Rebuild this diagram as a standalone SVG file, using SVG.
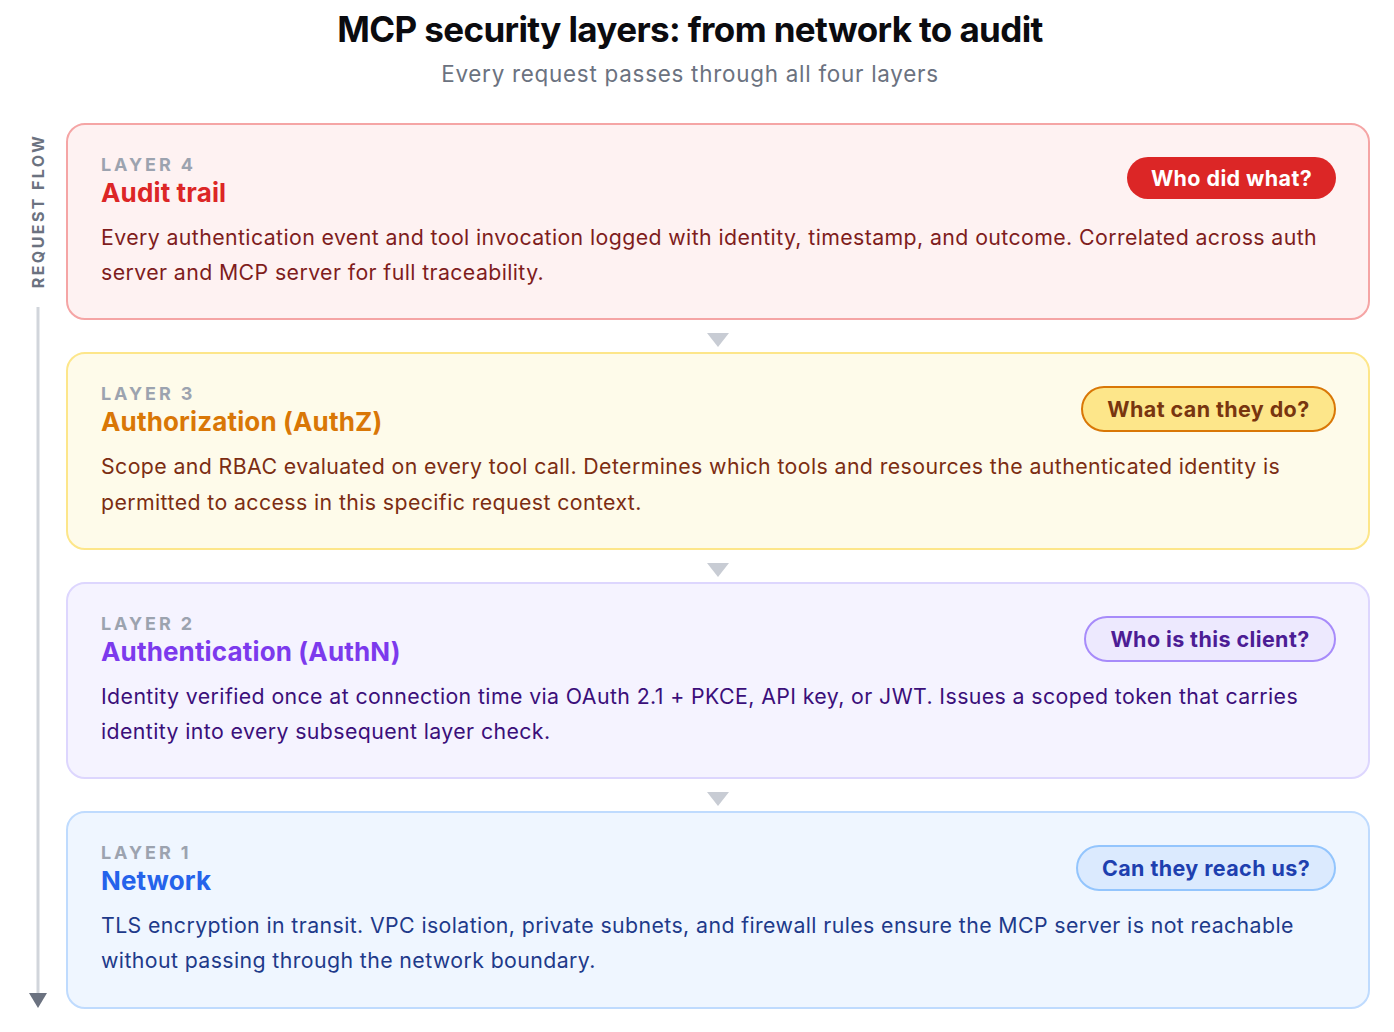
<svg xmlns="http://www.w3.org/2000/svg" width="1394" height="1032" viewBox="0 0 1394 1032">
<style>
  text { font-family: Inter, "Noto Sans", "Liberation Sans", sans-serif; }
  .title { font-size: 35px; font-weight: 700; fill: #0b0b0f; letter-spacing: -0.62px; }
  .sub { font-size: 22.4px; fill: #6b7280; letter-spacing: 0.75px; }
  .flow { font-size: 16px; font-weight: 700; fill: #6b7280; letter-spacing: 2.4px; }
  .eyebrow { font-size: 18px; font-weight: 700; fill: #9ca3af; letter-spacing: 2.9px; }
  .name { font-size: 26px; font-weight: 700; letter-spacing: 0.15px; }
  .body { font-size: 21.3px; letter-spacing: 0.4px; }
  .badge { font-size: 21.5px; font-weight: 700; text-anchor: middle; letter-spacing: 0.4px; }
  .card { stroke-width: 2; }
  .tri { fill: #c8ccd4; }
</style>
<rect width="1394" height="1032" fill="#ffffff"/>
<text class="title" x="690" y="42" text-anchor="middle">MCP security layers: from network to audit</text>
<text class="sub" x="690" y="82" text-anchor="middle">Every request passes through all four layers</text>

<g id="request-flow">
  <text class="flow" transform="translate(44 211) rotate(-90)" text-anchor="middle">REQUEST FLOW</text>
  <line x1="38" y1="307" x2="38" y2="994" stroke="#d1d5db" stroke-width="3"/>
  <polygon points="29,993 47,993 38,1008" fill="#6b7280"/>
</g>

<g id="connectors">
  <polygon class="tri" points="707,333 729,333 718,347"/>
  <polygon class="tri" points="707,563 729,563 718,577"/>
  <polygon class="tri" points="707,792 729,792 718,806"/>
</g>

<g id="layer4">
  <rect class="card" x="67" y="124" width="1302" height="195" rx="18" fill="#fef2f2" stroke="#f5a5a5"/>
  <text class="eyebrow" x="101" y="171">LAYER 4</text>
  <text class="name" x="101" y="202" fill="#dc2626">Audit trail</text>
  <text class="body" x="101" y="245" fill="#7f1d1d">Every authentication event and tool invocation logged with identity, timestamp, and outcome. Correlated across auth</text>
  <text class="body" x="101" y="280" fill="#7f1d1d">server and MCP server for full traceability.</text>
  <rect x="1127" y="157" width="209" height="42" rx="21" fill="#dc2626"/>
  <text class="badge" x="1231.5" y="186" fill="#ffffff">Who did what?</text>
</g>

<g id="layer3">
  <rect class="card" x="67" y="353" width="1302" height="196" rx="18" fill="#fefbea" stroke="#fde68a"/>
  <text class="eyebrow" x="101" y="400">LAYER 3</text>
  <text class="name" x="101" y="431" fill="#d97706">Authorization (AuthZ)</text>
  <text class="body" x="101" y="474" fill="#7c2d12">Scope and RBAC evaluated on every tool call. Determines which tools and resources the authenticated identity is</text>
  <text class="body" x="101" y="510" fill="#7c2d12">permitted to access in this specific request context.</text>
  <rect x="1082" y="387" width="253" height="44" rx="22" fill="#fde68a" stroke="#d97706" stroke-width="2"/>
  <text class="badge" x="1208.5" y="417" fill="#78350f">What can they do?</text>
</g>

<g id="layer2">
  <rect class="card" x="67" y="583" width="1302" height="195" rx="18" fill="#f5f3ff" stroke="#ddd6fe"/>
  <text class="eyebrow" x="101" y="630">LAYER 2</text>
  <text class="name" x="101" y="661" fill="#7c3aed">Authentication (AuthN)</text>
  <text class="body" x="101" y="704" fill="#3b0f7a">Identity verified once at connection time via OAuth 2.1 + PKCE, API key, or JWT. Issues a scoped token that carries</text>
  <text class="body" x="101" y="739" fill="#3b0f7a">identity into every subsequent layer check.</text>
  <rect x="1085" y="617" width="250" height="44" rx="22" fill="#ede9fe" stroke="#a78bfa" stroke-width="2"/>
  <text class="badge" x="1210" y="647" fill="#4c1d95">Who is this client?</text>
</g>

<g id="layer1">
  <rect class="card" x="67" y="812" width="1302" height="196" rx="18" fill="#eff6ff" stroke="#bfdbfe"/>
  <text class="eyebrow" x="101" y="859">LAYER 1</text>
  <text class="name" x="101" y="890" fill="#2563eb">Network</text>
  <text class="body" x="101" y="933" fill="#1e3a8a">TLS encryption in transit. VPC isolation, private subnets, and firewall rules ensure the MCP server is not reachable</text>
  <text class="body" x="101" y="968" fill="#1e3a8a">without passing through the network boundary.</text>
  <rect x="1077" y="846" width="258" height="44" rx="22" fill="#dbeafe" stroke="#93c5fd" stroke-width="2"/>
  <text class="badge" x="1206" y="876" fill="#1e40af">Can they reach us?</text>
</g>
</svg>
